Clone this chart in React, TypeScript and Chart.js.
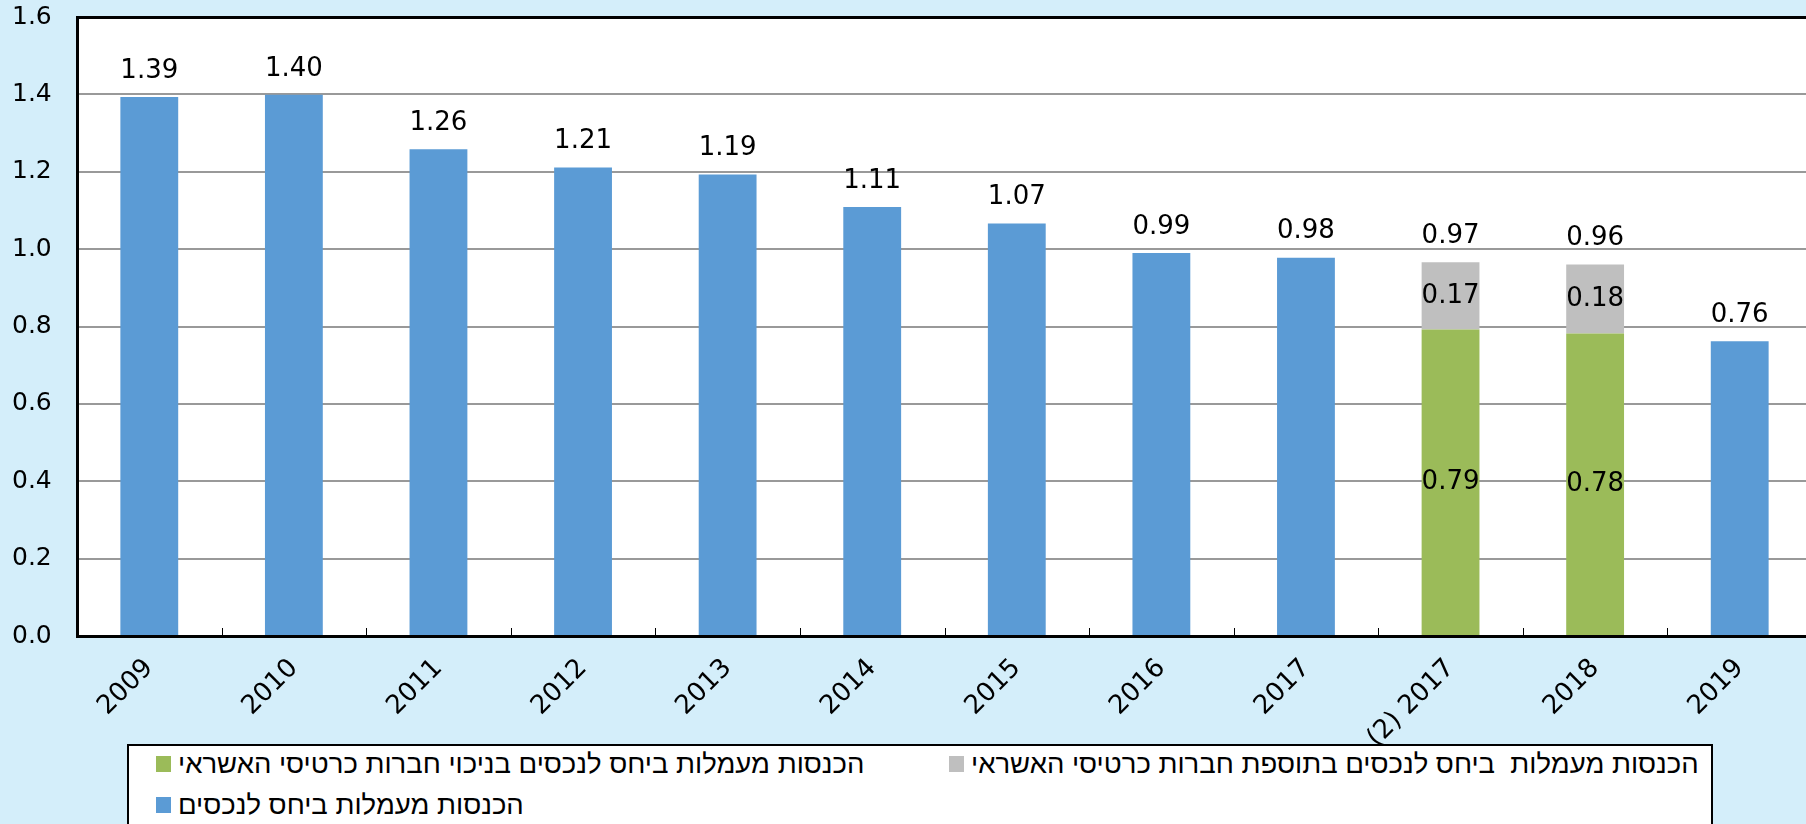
import React, { useEffect, useRef } from "react";
import { Chart, registerables } from "chart.js";

Chart.register(...registerables);

const categories = ["2009", "2010", "2011", "2012", "2013", "2014", "2015", "2016", "2017", "(2) 2017", "2018", "2019"];
const feesToAssets = [1.393, 1.399, 1.258, 1.211, 1.193, 1.109, 1.066, 0.99, 0.978, null, null, 0.762];
const feesExclCardCompanies = [null, null, null, null, null, null, null, null, null, 0.792, 0.782, null];
const feesCardCompaniesAddition = [null, null, null, null, null, null, null, null, null, 0.174, 0.178, null];
const yMin = 0;
const yMax = 1.6;
const yStep = 0.2;

const labelGray = "הכנסות מעמלות  ביחס לנכסים בתוספת חברות כרטיסי האשראי";
const labelGreen = "הכנסות מעמלות ביחס לנכסים בניכוי חברות כרטיסי האשראי";
const labelBlue = "הכנסות מעמלות ביחס לנכסים";

const BLUE = "#5b9bd5";
const GREEN = "#9bbb59";
const GRAY = "#bfbfbf";
const BG = "#d4eefa";
const FONT = '"DejaVu Sans", sans-serif';

const plotBgPlugin = {
  id: "plotBg",
  beforeDraw(chart: any) {
    const { ctx, chartArea } = chart;
    ctx.save();
    ctx.fillStyle = "#ffffff";
    ctx.fillRect(chartArea.left, chartArea.top, chartArea.right - chartArea.left, chartArea.bottom - chartArea.top);
    ctx.restore();
  },
};

const innerTicksPlugin = {
  id: "innerTicks",
  afterDraw(chart: any) {
    const { ctx, chartArea } = chart;
    const n = categories.length;
    const w = (chartArea.right - chartArea.left) / n;
    ctx.save();
    ctx.strokeStyle = "#000";
    ctx.lineWidth = 1;
    for (let i = 1; i < n; i++) {
      const x = Math.round(chartArea.left + i * w) + 0.5;
      ctx.beginPath();
      ctx.moveTo(x, chartArea.bottom - 8);
      ctx.lineTo(x, chartArea.bottom);
      ctx.stroke();
    }
    ctx.restore();
  },
};

const valueLabelsPlugin = {
  id: "valueLabels",
  afterDatasetsDraw(chart: any) {
    const ctx = chart.ctx;
    ctx.save();
    ctx.font = "26px " + FONT;
    ctx.fillStyle = "#000";
    ctx.textAlign = "center";
    ctx.textBaseline = "middle";
    for (let i = 0; i < categories.length; i++) {
      const parts: { v: number; el: any }[] = [];
      chart.data.datasets.forEach((ds: any, di: number) => {
        const v = ds.data[i];
        if (v == null) return;
        parts.push({ v, el: chart.getDatasetMeta(di).data[i] });
      });
      if (!parts.length) continue;
      let total = 0;
      let top = Infinity;
      parts.forEach((p) => {
        total += p.v;
        top = Math.min(top, p.el.y);
        if (parts.length > 1) {
          ctx.fillText(p.v.toFixed(2), p.el.x, (p.el.y + p.el.base) / 2);
        }
      });
      ctx.fillText(total.toFixed(2), parts[0].el.x, top - 26);
    }
    ctx.restore();
  },
};

function ChartCanvas() {
  const ref = useRef<HTMLCanvasElement | null>(null);
  useEffect(() => {
    if (!ref.current) return;
    const chart = new Chart(ref.current, {
      type: "bar",
      data: {
        labels: categories,
        datasets: [
          { label: labelBlue, data: feesToAssets as any, backgroundColor: BLUE, barPercentage: 0.4, categoryPercentage: 1 },
          { label: labelGreen, data: feesExclCardCompanies as any, backgroundColor: GREEN, barPercentage: 0.4, categoryPercentage: 1 },
          { label: labelGray, data: feesCardCompaniesAddition as any, backgroundColor: GRAY, barPercentage: 0.4, categoryPercentage: 1 },
        ],
      },
      options: {
        responsive: false,
        animation: false,
        devicePixelRatio: 1,
        layout: { padding: { top: 17, left: 12, right: 0, bottom: 0 } },
        plugins: { legend: { display: false }, tooltip: { enabled: false }, title: { display: false } },
        scales: {
          x: {
            stacked: true,
            afterFit: (s: any) => {
              s.height = 188;
            },
            grid: { display: true, drawOnChartArea: false, drawTicks: false, color: "rgba(0,0,0,0)" },
            border: { display: true, color: "#000", width: 3 },
            ticks: {
              autoSkip: false,
              maxRotation: 45,
              minRotation: 45,
              padding: 17,
              color: "#000",
              font: { family: FONT, size: 26 },
            },
          },
          y: {
            stacked: true,
            min: yMin,
            max: yMax,
            afterFit: (s: any) => {
              s.width = 65;
            },
            grid: {
              drawTicks: false,
              color: (c: any) => (c.tick && Math.abs(c.tick.value - yMax) < 1e-6 ? "#000" : "#999"),
              lineWidth: (c: any) => (c.tick && Math.abs(c.tick.value - yMax) < 1e-6 ? 3 : 2),
            },
            border: { display: true, color: "#000", width: 3 },
            ticks: {
              stepSize: yStep,
              padding: 0,
              crossAlign: "far",
              color: "#000",
              font: { family: FONT, size: 25 },
              callback: (v: any) => Number(v).toFixed(1),
            },
          },
        },
      },
      plugins: [plotBgPlugin, innerTicksPlugin, valueLabelsPlugin],
    });
    return () => chart.destroy();
  }, []);
  return <canvas ref={ref} width={1812} height={824} style={{ position: "absolute", left: 0, top: 0 }} />;
}

function LegendItem({ color, text, left, top }: { color: string; text: string; left: number; top: number }) {
  return (
    <div
      style={{
        position: "absolute",
        left,
        top,
        display: "flex",
        alignItems: "center",
        gap: 7,
        whiteSpace: "pre",
        fontFamily: '"Liberation Sans", Arial, sans-serif',
        fontSize: 27.5,
        color: "#000",
        lineHeight: "32px",
      }}
    >
      <span style={{ width: 15, height: 16, background: color, display: "inline-block" }} />
      <span dir="rtl">{text}</span>
    </div>
  );
}

export default function App() {
  return (
    <div
      style={{
        position: "fixed",
        left: 0,
        top: 0,
        width: 1806,
        height: 824,
        overflow: "hidden",
        background: BG,
      }}
    >
      <ChartCanvas />
      <div
        style={{
          position: "absolute",
          left: 127,
          top: 744,
          width: 1582,
          height: 120,
          border: "2px solid #000",
          background: "#fff",
        }}
      >
        <LegendItem color={GRAY} text={labelGray} left={820} top={2} />
        <LegendItem color={GREEN} text={labelGreen} left={27} top={2} />
        <LegendItem color={BLUE} text={labelBlue} left={27} top={43} />
      </div>
    </div>
  );
}
